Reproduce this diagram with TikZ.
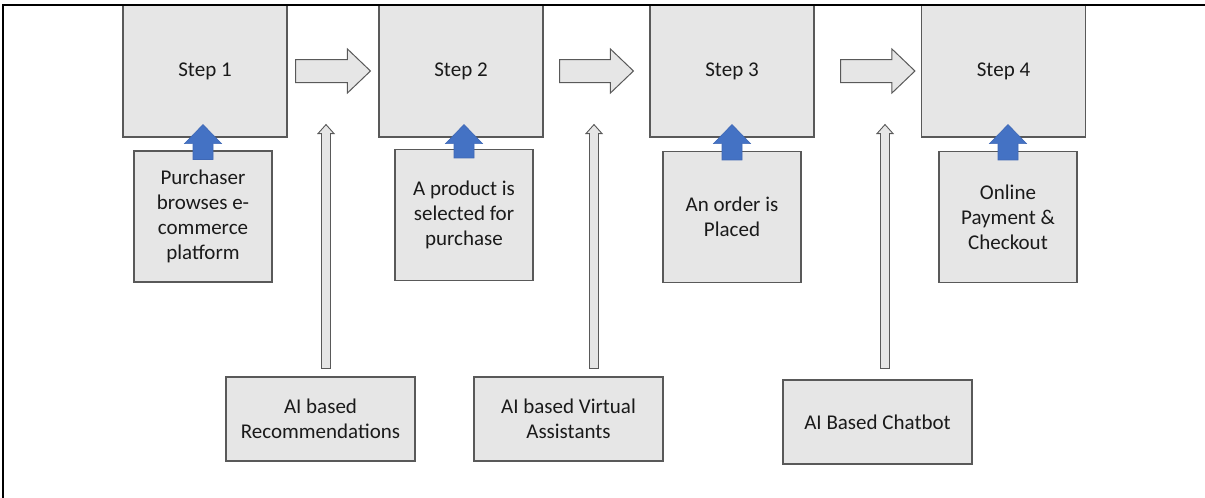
\documentclass[tikz,border=0pt]{standalone}
\usepackage{fontspec}
\setmainfont{Carlito}
\usetikzlibrary{calc}

\definecolor{boxfill}{HTML}{E6E6E6}
\definecolor{boxline}{HTML}{595959}
\definecolor{upblue}{HTML}{4472C4}
\definecolor{upblueline}{HTML}{3F68B5}
\definecolor{textdark}{HTML}{1A1A1A}

\newcommand\diagfont{\fontsize{21pt}{25pt}\selectfont}

% Block arrow from #2 (tail) to #3 (tip): #4 shaft half width,
% #5 head half width, #6 head length; #1 is the style.
\newcommand\blockarrow[6]{%
  \coordinate (ba-base) at ($(#3)!#6!(#2)$);
  \draw[#1] ($(#2)!#4!90:(#3)$) -- ($(ba-base)!#4!90:(#3)$)
    -- ($(ba-base)!#5!90:(#3)$) -- (#3)
    -- ($(ba-base)!#5!-90:(#3)$) -- ($(ba-base)!#4!-90:(#3)$)
    -- ($(#2)!#4!-90:(#3)$) -- cycle;
}

\begin{document}
\begin{tikzpicture}[x=1pt,y=-1pt,
  box/.style={draw=boxline, fill=boxfill, line width=1.1pt, inner sep=0pt,
    align=center, font=\diagfont, text=textdark},
  stepbox/.style={box, minimum width=164pt, minimum height=132pt},
  actionbox/.style={box, minimum width=138pt, minimum height=131pt},
  aibox/.style={box, minimum width=189pt, minimum height=84pt},
  flowarrow/.style={draw=boxline, fill=boxfill, line width=1pt, line join=miter},
  aiarrow/.style={draw=boxline, fill=boxfill, line width=0.9pt, line join=miter},
  bluearrow/.style={draw=upblueline, fill=upblue, line width=0.6pt, line join=miter}]

\useasboundingbox (0,0) rectangle (1205,498);

% Steps along the top
\node[stepbox] (s1) at (205,71)    {\raisebox{-2pt}{Step 1}};
\node[stepbox] (s2) at (461,71)    {\raisebox{-2pt}{Step 2}};
\node[stepbox] (s3) at (732,71)    {\raisebox{-2pt}{Step 3}};
\node[stepbox] (s4) at (1003.5,71) {\raisebox{-2pt}{Step 4}};

% What the purchaser does at each step
\node[actionbox] (b1) at (203,216.5) {Purchaser\\browses e-\\commerce\\platform};
\node[actionbox] (b2) at (464,215)   {A product is\\selected for\\purchase};
\node[actionbox] (b3) at (732,217)   {An order is\\Placed};
\node[actionbox] (b4) at (1008,217)  {Online\\Payment \&\\Checkout};

% AI support between the steps
\node[aibox] (r1) at (320.5,419) {AI based\\Recommendations};
\node[aibox] (r2) at (568.5,419) {AI based Virtual\\Assistants};
\node[aibox] (r3) at (877.5,422) {AI Based Chatbot};

% Flow from step to step
\coordinate (h1t) at ($(s1.east)+(8,0)$);  \coordinate (h1h) at ($(s2.west)+(-8,0)$);
\coordinate (h2t) at ($(s2.east)+(16,0)$); \coordinate (h2h) at ($(s3.west)+(-16,0)$);
\coordinate (h3t) at ($(s3.east)+(26,0)$); \coordinate (h3h) at ($(s4.west)+(-6,0)$);
\blockarrow{flowarrow}{h1t}{h1h}{11.5pt}{22pt}{23pt}
\blockarrow{flowarrow}{h2t}{h2h}{11.5pt}{22pt}{23pt}
\blockarrow{flowarrow}{h3t}{h3h}{11.5pt}{22pt}{23pt}

% Actions feeding their step
\foreach \i in {1,...,4}{
  \coordinate (u\i t) at ($(b\i.north)+(0,9)$);
  \coordinate (u\i h) at ($(b\i.north |- s\i.south)+(0,-13)$);
  \blockarrow{bluearrow}{u\i t}{u\i h}{10pt}{18.5pt}{19pt}
}

% AI boxes pointing up between the steps
\coordinate (v1t) at ($(r1.north)+(5.5,-8)$);
\coordinate (v2t) at ($(r2.north)+(25.5,-8)$);
\coordinate (v3t) at ($(r3.north)+(7.5,-11)$);
\coordinate (v1h) at ($(v1t |- s1.south)+(0,-13)$);
\coordinate (v2h) at ($(v2t |- s2.south)+(0,-13)$);
\coordinate (v3h) at ($(v3t |- s3.south)+(0,-13)$);
\blockarrow{aiarrow}{v1t}{v1h}{4.5pt}{8pt}{9pt}
\blockarrow{aiarrow}{v2t}{v2h}{4.5pt}{8pt}{9pt}
\blockarrow{aiarrow}{v3t}{v3h}{4.5pt}{8pt}{9pt}

% Frame lines along the top and the left
\draw[line width=2pt, black] (1205,5) -- (3,5) -- (3,498);
\end{tikzpicture}
\end{document}
